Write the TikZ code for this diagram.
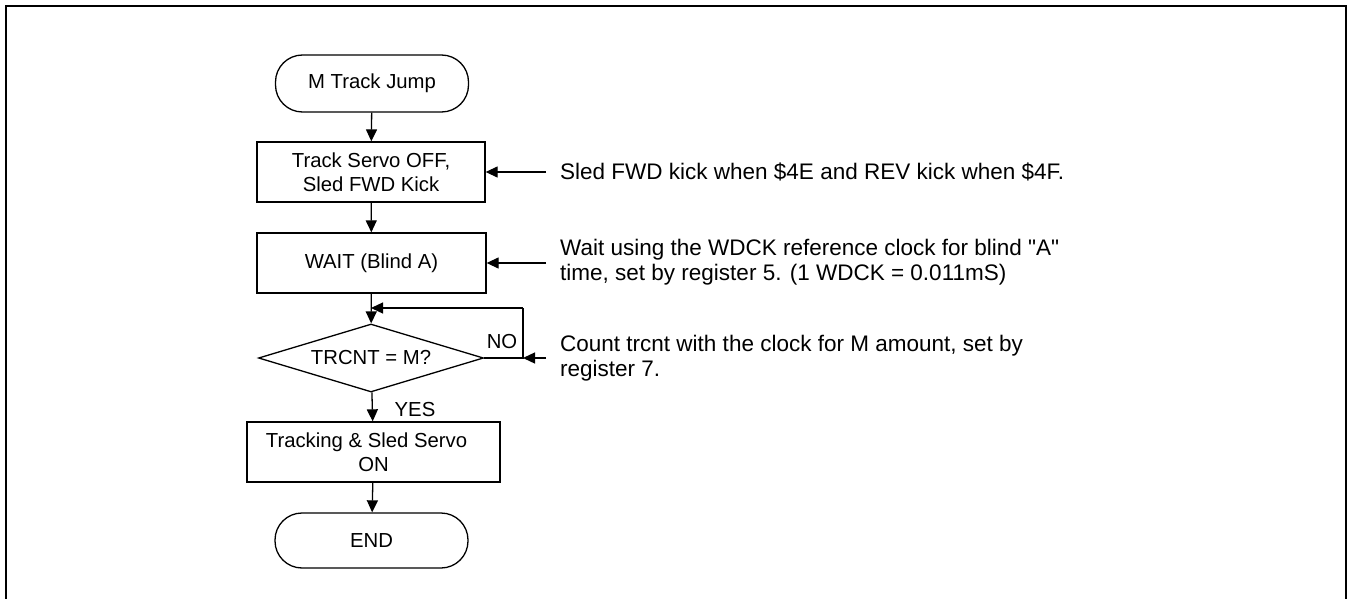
\documentclass[tikz,border=0pt]{standalone}
\usepackage{fontspec}
\setmainfont{Liberation Sans}[Ligatures=TeXOff]
\usetikzlibrary{shapes.geometric,arrows.meta}
\begin{document}
\begin{tikzpicture}[x=1pt,y=-1pt,
  every node/.style={font=\fontsize{20.3}{24}\selectfont},
  box/.style={draw,line width=1.3pt,align=center,inner sep=0pt},
  term/.style={box,rounded corners=27pt},
  dec/.style={box,diamond,aspect=3.3},
  conn/.style={line width=1.3pt,-{Triangle[length=12pt,width=11pt]}},
  plain/.style={line width=1.3pt},
  note/.style={align=left,anchor=west,inner sep=0pt,font=\fontsize{22.5}{25}\selectfont}]
\useasboundingbox (0,0) rectangle (1347,599);
\clip (0,0) rectangle (1347,599);
\draw[line width=2pt] (6,6) rectangle (1346,640);

\node[term,minimum width=193pt,minimum height=57pt] (start) at (372,83.5) {M Track Jump};
\node[box,minimum width=228pt,minimum height=60pt] (b1) at (371,172) {Track Servo OFF,\\Sled FWD Kick};
\node[box,minimum width=229pt,minimum height=60pt] (b2) at (371.5,263) {WAIT (Blind A)};
\node[dec,minimum width=225pt,minimum height=68pt] (dia) at (371,358) {TRCNT = M?};
\node[box,minimum width=253pt,minimum height=60pt] (b3) at (373.5,452) {Tracking \& Sled Servo\hspace*{14pt}\\ON};
\node[term,minimum width=193pt,minimum height=55pt] (end) at (371.5,540.5) {END};

\coordinate (lc) at (523,358);
\coordinate (lt) at (523,308);
\coordinate (lm) at (371,308);
\coordinate (a1) at (546,172);
\coordinate (a2) at (546,263);
\coordinate (a3) at (546,358);

\draw[conn] (start) -- (b1);
\draw[conn] (b1) -- (b2);
\draw[conn] (b2) -- (dia);
\draw[conn] (dia) -- (b3);
\draw[conn] (b3) -- (end);
\draw[plain] (dia.east) -- (lc) -- (lt);
\draw[conn] (lt) -- (lm);
\draw[conn] (a1) -- (b1.east);
\draw[conn] (a2) -- (b2.east);
\draw[conn] (a3) -- (lc);

\node[inner sep=0pt] (no) at (502,342) {NO};
\node[inner sep=0pt] (yes) at (415,410) {YES};

\node[note] (n1) at (560,172) {Sled FWD kick when \$4E and REV kick when \$4F.};
\node[note] (n2) at (560,262) {Wait using the WDCK reference clock for blind "A"\\time, set by register 5. (1 WDCK = 0.011mS)};
\node[note] (n3) at (560,358) {Count trcnt with the clock for M amount, set by\\register 7.};
\end{tikzpicture}
\end{document}
